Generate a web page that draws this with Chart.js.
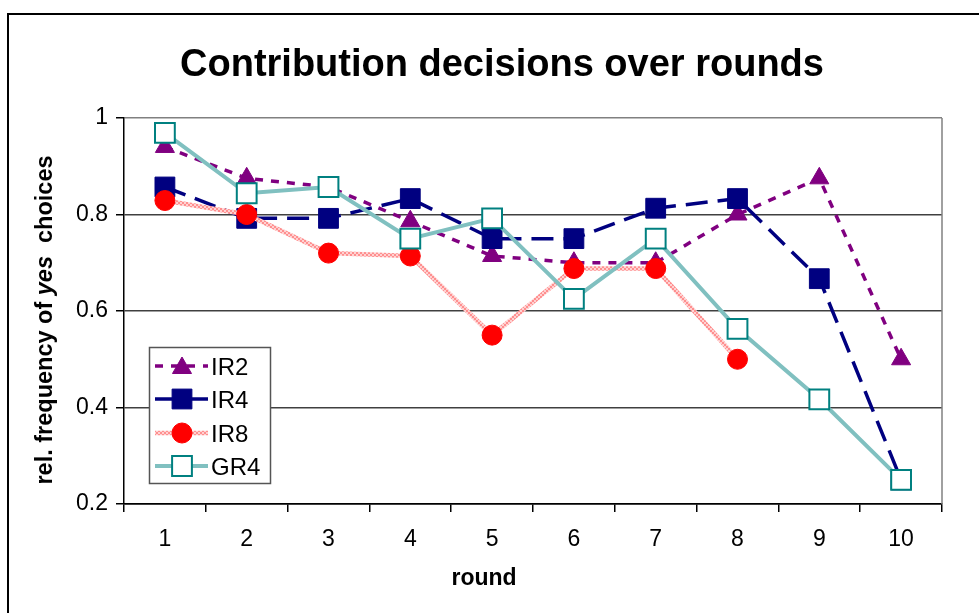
<!DOCTYPE html>
<html lang="en">
<head>
<meta charset="UTF-8">
<title>Contribution decisions over rounds</title>
<script src="https://cdn.jsdelivr.net/npm/chart.js@4/dist/chart.umd.min.js"></script>
<style>
  html, body { margin:0; padding:0; background:#fff; overflow:hidden; }
  #frame { position:absolute; left:7px; top:13px; width:1000px; height:700px; border:2px solid #000; }
  #chart { position:absolute; left:0; top:0; }
</style>
</head>
<body>
<div id="frame"></div>
<canvas id="chart" width="979" height="613"></canvas>

<script>
// ── data ────────────────────────────────────────────────────
const rounds = ['1','2','3','4','5','6','7','8','9','10'];
const ir2 = [0.94, 0.875, 0.857, 0.786, 0.714, 0.70, 0.70, 0.80, 0.875, 0.50];
const ir4 = [0.857, 0.792, 0.792, 0.833, 0.75, 0.75, 0.813, 0.833, 0.667, 0.25];
const ir8 = [0.829, 0.80, 0.72, 0.714, 0.55, 0.688, 0.688, 0.50, null, null];
const gr4 = [0.969, 0.844, 0.857, 0.75, 0.792, 0.625, 0.75, 0.563, 0.417, 0.25];
const seriesNames = ['IR2', 'IR4', 'IR8', 'GR4'];

const FONT = "'Liberation Sans', Arial, sans-serif";

// hatched pink line for IR8
function hatch() {
  const c = document.createElement('canvas');
  c.width = 4; c.height = 4;
  const g = c.getContext('2d');
  g.fillStyle = '#ffd2d2'; g.fillRect(0, 0, 4, 4);
  g.fillStyle = '#ff8f8f';
  g.fillRect(0, 0, 2, 2); g.fillRect(2, 2, 2, 2);
  return g.createPattern(c, 'repeat');
}

// ── titles + legend drawn on top ────────────────────────────
function marker(ctx, ds, x, y) {
  const r = ds.pointRadius;
  ctx.save();
  ctx.setLineDash([]);
  ctx.fillStyle = ds.pointBackgroundColor;
  ctx.strokeStyle = ds.pointBorderColor;
  ctx.lineWidth = ds.pointBorderWidth;
  ctx.beginPath();
  if (ds.pointStyle === 'triangle') {
    for (let k = 0; k < 3; k++) {
      const a = k * 2 * Math.PI / 3;
      const px = x + Math.sin(a) * r, py = y - Math.cos(a) * r;
      k ? ctx.lineTo(px, py) : ctx.moveTo(px, py);
    }
    ctx.closePath();
  } else if (ds.pointStyle === 'rect') {
    const s = Math.SQRT1_2 * r;
    ctx.rect(x - s, y - s, 2 * s, 2 * s);
  } else {
    ctx.arc(x, y, r, 0, Math.PI * 2);
  }
  ctx.fill();
  ctx.stroke();
  ctx.restore();
}

const decor = {
  id: 'decor',
  beforeDatasetsDraw(chart) {
    const { ctx, chartArea: a } = chart;
    ctx.save();
    ctx.strokeStyle = '#808080';
    ctx.lineWidth = 1.5;
    ctx.beginPath();
    ctx.moveTo(a.right, a.top); ctx.lineTo(a.right, a.bottom);
    ctx.stroke();
    ctx.restore();
  },
  afterDraw(chart) {
    const ctx = chart.ctx;
    ctx.save();
    ctx.fillStyle = '#000';

    // main title
    ctx.font = 'bold 38px ' + FONT;
    ctx.textAlign = 'center';
    ctx.textBaseline = 'alphabetic';
    ctx.fillText('Contribution decisions over rounds', 502, 76);

    // x title
    ctx.font = 'bold 23px ' + FONT;
    ctx.fillText('round', 484, 585);

    // y title with italic "yes"
    const parts = [
      ['rel. frequency of ', 'bold 23.5px ' + FONT],
      ['yes', 'italic bold 23.5px ' + FONT],
      ['  choices', 'bold 23.5px ' + FONT]
    ];
    let total = 0;
    parts.forEach(p => { ctx.font = p[1]; total += ctx.measureText(p[0]).width; });
    ctx.translate(52, 320);
    ctx.rotate(-Math.PI / 2);
    ctx.textAlign = 'left';
    let x = -total / 2;
    parts.forEach(p => { ctx.font = p[1]; ctx.fillText(p[0], x, 0); x += ctx.measureText(p[0]).width; });
    ctx.restore();

    // legend
    ctx.save();
    ctx.fillStyle = '#fff';
    ctx.fillRect(149, 347, 121, 136);
    ctx.strokeStyle = '#555';
    ctx.lineWidth = 1.5;
    ctx.strokeRect(149.5, 347.5, 121, 136);
    const rows = [366, 399, 433, 466];
    seriesNames.forEach((name, i) => {
      const ds = chart.data.datasets.find(d => d.label === name);
      const y = rows[i];
      ctx.save();
      ctx.strokeStyle = ds.borderColor;
      ctx.lineWidth = ds.borderWidth;
      ctx.setLineDash(ds.borderDash || []);
      ctx.beginPath();
      ctx.moveTo(155, y); ctx.lineTo(208, y);
      ctx.stroke();
      ctx.restore();
      marker(ctx, ds, 182, ds.pointStyle === 'triangle' ? y + 2 : y);
      ctx.fillStyle = '#000';
      ctx.font = '24px ' + FONT;
      ctx.textAlign = 'left';
      ctx.textBaseline = 'alphabetic';
      ctx.fillText(name, 211, y + 9);
    });
    ctx.restore();
  }
};

new Chart(document.getElementById('chart'), {
  type: 'line',
  data: {
    labels: rounds,
    datasets: [
      { label:'GR4', data:gr4, order:0, borderColor:'#80c0c0', borderWidth:4,
        pointStyle:'rect', pointRadius:14, pointBackgroundColor:'#fff', pointBorderColor:'#008080', pointBorderWidth:2 },
      { label:'IR8', data:ir8, order:1, borderColor:hatch(), borderWidth:4.5,
        pointStyle:'circle', pointRadius:10, pointBackgroundColor:'#ff0000', pointBorderColor:'#ff0000', pointBorderWidth:1 },
      { label:'IR4', data:ir4, order:2, borderColor:'#000080', borderWidth:3.5, borderDash:[22,10],
        pointStyle:'rect', pointRadius:14, pointBackgroundColor:'#000080', pointBorderColor:'#000080', pointBorderWidth:1 },
      { label:'IR2', data:ir2, order:3, borderColor:'#800080', borderWidth:3.5, borderDash:[8,8],
        pointStyle:'triangle', pointRadius:11, pointBackgroundColor:'#800080', pointBorderColor:'#800080', pointBorderWidth:1 }
    ]
  },
  options: {
    responsive: false,
    animation: false,
    devicePixelRatio: 1,
    layout: { padding: { left:0, right:37, top:118, bottom:0 } },
    elements: { line: { tension:0 } },
    plugins: { legend: { display:false }, tooltip: { enabled:false } },
    scales: {
      x: {
        offset: true,
        grid: { offset:true, drawOnChartArea:false, tickLength:8, color:'#000', lineWidth:1.5 },
        border: { color:'#000', width:1.5 },
        ticks: { color:'#000', font:{ family:FONT, size:23 }, padding:14, maxRotation:0 },
        afterFit: s => { s.height = 109; }
      },
      y: {
        min: 0.2, max: 1,
        ticks: { stepSize:0.2, color:'#000', font:{ family:FONT, size:23 }, padding:8,
                 callback: v => (Math.abs(v - 1) < 1e-9 ? '1' : v.toFixed(1)) },
        grid: {
          tickLength: 8, tickColor: '#000', lineWidth: 1.5,
          color: c => {
            const v = c.tick ? c.tick.value : 0;
            if (Math.abs(v - 1) < 1e-9) return '#808080';
            if (Math.abs(v - 0.2) < 1e-9) return '#000';
            return '#404040';
          }
        },
        border: { color:'#000', width:1.5 },
        afterFit: s => { s.width = 124; }
      }
    }
  },
  plugins: [decor]
});
</script>
</body>
</html>
